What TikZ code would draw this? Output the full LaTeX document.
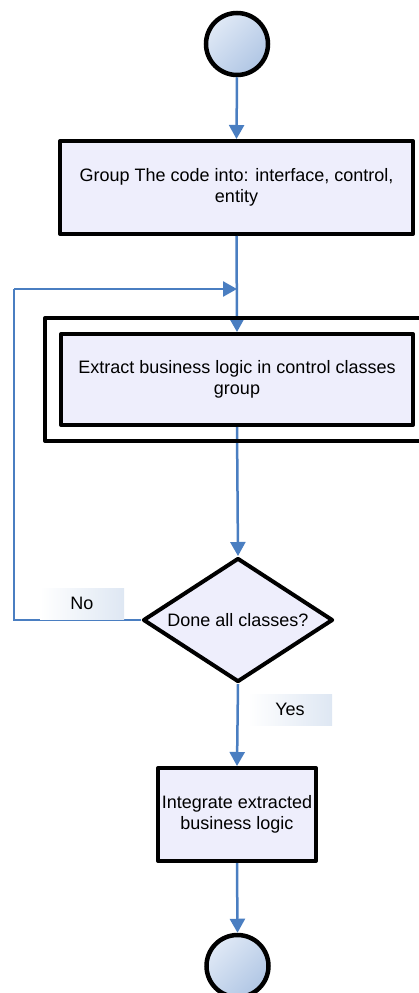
\documentclass[tikz,border=0pt]{standalone}
\usepackage{fontspec}
\setmainfont{Liberation Sans}
\usetikzlibrary{shapes.geometric,arrows.meta}
\definecolor{flowblue}{RGB}{74,126,193}
\definecolor{boxfill}{RGB}{238,238,252}
\definecolor{termlight}{RGB}{224,233,246}
\definecolor{termdark}{RGB}{176,198,228}
\definecolor{tagright}{RGB}{222,231,243}
\begin{document}
\begin{tikzpicture}[x=1pt,y=-1pt,
  every node/.style={font=\fontsize{18}{21}\selectfont},
  stepbox/.style={draw=black,line width=4pt,line join=round,fill=boxfill,
    inner sep=0pt,align=center},
  terminal/.style={circle,draw=black,line width=4.5pt,minimum size=62pt,
    inner sep=0pt,left color=termlight,right color=termdark,shading angle=45},
  decision/.style={diamond,draw=black,line width=4pt,line join=round,fill=boxfill,
    aspect=1.6,inner sep=0pt,minimum width=190pt,minimum height=124pt},
  tag/.style={inner sep=0pt,minimum width=84pt,minimum height=31pt,
    left color=white,right color=tagright},
  flow/.style={draw=flowblue,line width=2.5pt,
    -{Triangle[width=15pt,length=14pt]}},
  flowline/.style={draw=flowblue,line width=2.5pt}]
\useasboundingbox (0,0) rectangle (419,993);

% start and end terminals
\node[terminal] (start) at (237,44) {};
\node[terminal] (stop) at (237.5,966) {};

% process steps
\node[stepbox,minimum width=353pt,minimum height=93pt] (group) at (236.5,187.5)
  {Group The code into: interface, control,\\entity};
\node[stepbox,minimum width=352pt,minimum height=91pt] (extract) at (237,379.5)
  {Extract business logic in control classes\\group};
\node[decision] (done) at (238,620) {Done all classes?};
\node[stepbox,minimum width=158pt,minimum height=93pt] (integrate) at (237,814.5)
  {Integrate extracted\\business logic};

% loop-back coordinates
\coordinate (loopcorner) at (14,289);
\coordinate (loopin) at (237,289);

% connectors
\draw[flow] (start.south) -- (group.north);
\draw[flow] (group.south) -- (extract.north);
\draw[flowline] (done.west) -| (loopcorner);
\draw[flow] (loopcorner) -- (loopin);
\draw[flow] (extract.south) -- (done.north);
\draw[flow] (done.south) -- (integrate.north);
\draw[flow] (integrate.south) -- (stop.north);

% frame around the repeated step
\draw[black,line width=4pt,line join=round] (442,318) -- (45,318) -- (45,441) -- (442,441);

% branch labels
\node[tag] (no) at (82,603.5) {No};
\node[tag] (yes) at (290,709.5) {Yes};
\end{tikzpicture}
\end{document}
